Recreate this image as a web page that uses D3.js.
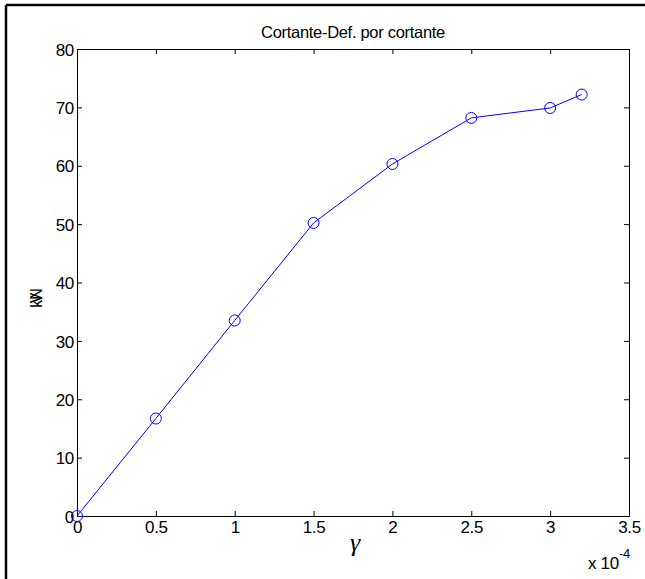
<!DOCTYPE html>
<html>
<head>
<meta charset="utf-8">
<script src="https://cdn.jsdelivr.net/npm/d3@7"></script>
<style>
body { margin: 0; background: #fff; }
text { font-family: "Liberation Sans", Arial, sans-serif; fill: #000; }
</style>
</head>
<body>
<div id="chart"></div>
<script>
// data (x in units of 1e-4)
var gamma = [0, 0.5, 1, 1.5, 2, 2.5, 3, 3.2];
var shear = [0, 16.7, 33.5, 50.2, 60.3, 68.2, 69.9, 72.2];
var xTicks = [0, 0.5, 1, 1.5, 2, 2.5, 3, 3.5];
var yTicks = [0, 10, 20, 30, 40, 50, 60, 70, 80];

var margin = {top: 49, right: 16, bottom: 63, left: 77};
var W = 645, H = 579;
var width = W - margin.left - margin.right;
var height = H - margin.top - margin.bottom;

var svg = d3.select("#chart").append("svg")
	.attr("width", W)
	.attr("height", H);

// frame of the figure (only left & top visible)
svg.append("line").attr("x1", 6).attr("y1", 5).attr("x2", W).attr("y2", 5)
	.attr("stroke", "#000").attr("stroke-width", 2.5);
svg.append("line").attr("x1", 6).attr("y1", 5).attr("x2", 6).attr("y2", H)
	.attr("stroke", "#000").attr("stroke-width", 2.5);

var g = svg.append("g")
	.attr("transform", "translate(" + margin.left + "," + margin.top + ")");

var x = d3.scaleLinear().domain([0, 3.5]).range([0, width]);
var y = d3.scaleLinear().domain([0, 80]).range([height, 0]);

var fmt = d => d3.format("")(d);

// axes, ticks inward like matlab
g.append("g")
	.attr("transform", "translate(0," + height + ")")
	.call(d3.axisBottom(x).tickValues(xTicks).tickFormat(fmt).tickSizeInner(-5).tickSizeOuter(0).tickPadding(5))
	.call(a => a.selectAll("text").style("font-size", "17px"));
g.append("g")
	.call(d3.axisTop(x).tickValues(xTicks).tickFormat("").tickSizeInner(-5).tickSizeOuter(0));
g.append("g")
	.call(d3.axisLeft(y).tickValues(yTicks).tickFormat(fmt).tickSizeInner(-5).tickSizeOuter(0).tickPadding(3))
	.call(a => a.selectAll("text").style("font-size", "17px").attr("dy", "0.36em"));
g.append("g")
	.attr("transform", "translate(" + width + ",0)")
	.call(d3.axisRight(y).tickValues(yTicks).tickFormat("").tickSizeInner(-5).tickSizeOuter(0));
g.selectAll(".domain").attr("stroke", "#000");
g.selectAll(".tick line").attr("stroke", "#000");
g.selectAll(".tick text").attr("font-family", null).style("letter-spacing", "-0.3px");

// series
var pts = gamma.map((d, i) => [d, shear[i]]);
g.append("path")
	.datum(pts)
	.attr("fill", "none")
	.attr("stroke", "#0000ff")
	.attr("stroke-width", 1)
	.attr("d", d3.line().x(d => x(d[0])).y(d => y(d[1])));
g.selectAll(".dot")
	.data(pts)
	.enter().append("circle")
	.attr("class", "dot")
	.attr("cx", d => x(d[0]))
	.attr("cy", d => y(d[1]))
	.attr("r", 5.5)
	.attr("fill", "none")
	.attr("stroke", "#0000ff")
	.attr("stroke-width", 1);

// title
svg.append("text")
	.attr("x", margin.left + width / 2)
	.attr("y", 38)
	.attr("text-anchor", "middle")
	.style("font-size", "16.5px")
	.style("letter-spacing", "-0.3px")
	.text("Cortante-Def. por cortante");

// x label
svg.append("text")
	.attr("x", 355)
	.attr("y", 551)
	.attr("text-anchor", "middle")
	.style("font-family", "'Liberation Serif', serif")
	.style("font-style", "italic")
	.style("font-size", "26px")
	.text("γ");

// exponent
var ex = svg.append("text")
	.attr("x", 588)
	.attr("y", 569)
	.style("font-size", "17px")
	.style("letter-spacing", "-0.3px");
ex.append("tspan").text("x 10");
ex.append("tspan").attr("dy", -11).style("font-size", "13px").text("-4");

// y label (overlapped glyphs as in source)
svg.append("text")
	.attr("transform", "translate(42,298) rotate(-90)")
	.attr("text-anchor", "middle")
	.style("font-size", "16px")
	.text("V");
svg.append("text")
	.attr("transform", "translate(42,298) rotate(-90)")
	.attr("text-anchor", "middle")
	.style("font-size", "16px")
	.text("kN");
</script>
</body>
</html>
